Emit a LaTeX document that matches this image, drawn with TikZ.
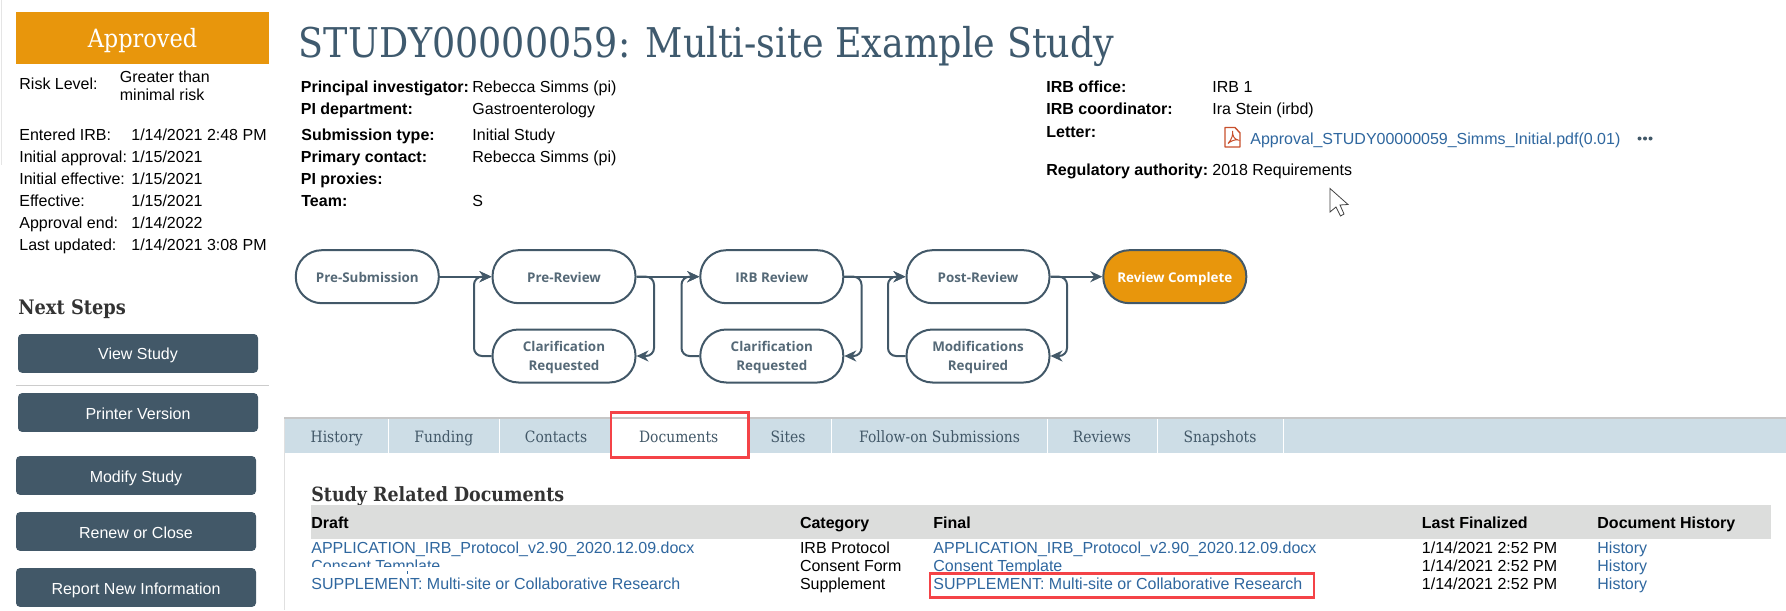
\documentclass[tikz,border=0pt]{standalone}
\usepackage{fontspec}
\setmainfont{Liberation Sans}
\newfontfamily\slab[FakeStretch=0.89]{DejaVu Serif}
\newfontfamily\flowfont{Open Sans}
\usetikzlibrary{arrows.meta}
\definecolor{slate}{HTML}{425868}
\definecolor{amber}{HTML}{E8960C}
\definecolor{titleblue}{HTML}{3F5A6E}
\definecolor{linkblue}{HTML}{2F679F}
\definecolor{tabblue}{HTML}{CDDDE6}
\definecolor{redbox}{HTML}{F44347}
\definecolor{headgray}{HTML}{DCDDDC}
\definecolor{pdfred}{HTML}{C8502D}
\tikzset{
  txt/.style={anchor=west,inner sep=0pt,text height=7.5pt,text depth=1pt,font=\fontsize{8}{9.6}\selectfont,text=black},
  lbl/.style={txt,font=\fontsize{8}{9.6}\selectfont\bfseries},
  lnk/.style={txt,text=linkblue},
  btn/.style={draw=none,fill=slate,rounded corners=2pt,minimum width=120pt,minimum height=19.4pt,inner sep=0pt,text height=7.5pt,text depth=1pt,text=white,font=\fontsize{8}{9.6}\selectfont},
  pill/.style={draw=slate,line width=1pt,fill=white,rounded corners=13pt,minimum width=71.5pt,minimum height=26.5pt,inner sep=0pt,align=center,text=slate!90!white,text height=15.3pt,text depth=.6pt,font=\flowfont\bfseries\fontsize{6.7}{9.4}\selectfont},
  pillone/.style={pill,text height=6.5pt,text depth=.3pt},
  flow/.style={draw=slate,line width=1pt,rounded corners=4pt,-{Stealth[length=6pt,width=5.5pt]}},
  tabtxt/.style={inner sep=0pt,text=slate,text height=6.5pt,text depth=.5pt,font=\slab\fontsize{7.8}{9}\selectfont},
  sep/.style={draw=white,line width=.5pt},
  hilite/.style={draw=redbox,line width=1.4pt,fill=none},
}
\begin{document}
\begin{tikzpicture}[x=0.5pt,y=-0.5pt]
\useasboundingbox (0,0) rectangle (1786,610);
\fill[white] (0,0) rectangle (1786,610);
\draw[gray!20,line width=.5pt] (1.5,0) -- (1.5,165);
% status
\node[fill=amber,minimum width=126.5pt,minimum height=26pt,inner sep=0pt,text=white,text height=10pt,text depth=.8pt,font=\slab\fontsize{12.6}{14}\selectfont] (status) at (142.5,38) {Approved};
\node[txt] (riskl) at (19,83.5) {Risk Level:};
\node[txt] (riskv1) at (119.5,76) {Greater than};
\node[txt] (riskv2) at (119.5,93.5) {minimal risk};
\node[txt] (d1l) at (19,134.3) {Entered IRB:};
\node[txt] (d1v) at (131,134.3) {1/14/2021 2:48 PM};
\node[txt] (d2l) at (19,156.3) {Initial approval:};
\node[txt] (d2v) at (131,156.3) {1/15/2021};
\node[txt] (d3l) at (19,178.3) {Initial effective:};
\node[txt] (d3v) at (131,178.3) {1/15/2021};
\node[txt] (d4l) at (19,200.3) {Effective:};
\node[txt] (d4v) at (131,200.3) {1/15/2021};
\node[txt] (d5l) at (19,222.3) {Approval end:};
\node[txt] (d5v) at (131,222.3) {1/14/2022};
\node[txt] (d6l) at (19,244.3) {Last updated:};
\node[txt] (d6v) at (131,244.3) {1/14/2021 3:08 PM};
% next steps
\node[anchor=west,inner sep=0pt,text=black!80,font=\slab\bfseries\fontsize{10}{12}\selectfont] (next) at (18,309) {Next Steps};
\node[btn] (b1) at (138,353.4) {View Study};
\draw[black!20,line width=.5pt] (16,385.3) -- (269,385.3);
\node[btn] (b2) at (138,412.5) {Printer Version};
\node[btn] (b3) at (136,475.5) {Modify Study};
\node[btn] (b4) at (136,531.5) {Renew or Close};
\node[btn] (b5) at (136,587.5) {Report New Information};
% title
\node[anchor=west,inner sep=0pt,text=titleblue,font=\slab\fontsize{20.5}{24}\selectfont] (title) at (298.5,46.5) {STUDY00000059: Multi-site Example Study};
% info
\node[lbl] (i1l) at (300.5,86.3) {Principal investigator:};
\node[txt] (i1v) at (472,86.3) {Rebecca Simms (pi)};
\node[lbl] (i2l) at (300.5,108.3) {PI department:};
\node[txt] (i2v) at (472,108.3) {Gastroenterology};
\node[lbl] (i3l) at (301,134.3) {Submission type:};
\node[txt] (i3v) at (472,134.3) {Initial Study};
\node[lbl] (i4l) at (300.5,156.3) {Primary contact:};
\node[txt] (i4v) at (472,156.3) {Rebecca Simms (pi)};
\node[lbl] (i5l) at (300.5,178.3) {PI proxies:};
\node[lbl] (i6l) at (301,200.3) {Team:};
\node[txt] (i6v) at (472,200.3) {S};
\node[lbl] (j1l) at (1046,86.3) {IRB office:};
\node[txt] (j1v) at (1212,86.3) {IRB 1};
\node[lbl] (j2l) at (1046,108.3) {IRB coordinator:};
\node[txt] (j2v) at (1212,108.3) {Ira Stein (irbd)};
\node[lbl] (j3l) at (1046,130.7) {Letter:};
\node[lnk] (j3v) at (1250,138.3) {Approval\_STUDY00000059\_Simms\_Initial.pdf(0.01)};
\node[lbl] (j4l) at (1046,168.7) {Regulatory authority:};
\node[txt] (j4v) at (1212,168.7) {2018 Requirements};
% pdf icon
\draw[pdfred,line width=.7pt,line join=round] (1225,127.5) -- (1235,127.5) -- (1240,133) -- (1240,147) -- (1225,147) -- cycle;
\draw[pdfred,line width=.5pt] (1228,143.5) .. controls (1232,139) and (1233,135) .. (1232.5,131) .. controls (1232.5,136) and (1234,139) .. (1238,140) .. controls (1234,139.5) and (1231,141) .. (1228,143.5);
% dots
\fill[slate] (1639.5,138.5) circle (1pt) (1645,138.5) circle (1pt) (1650.5,138.5) circle (1pt);
% cursor
\draw[black!75,fill=white,line width=.4pt,line join=miter] (1330,188.5) -- (1330,212) -- (1336,207) -- (1340.5,216) -- (1344,214) -- (1340,205) -- (1348,204.5) -- cycle;
% workflow
\node[pillone] (ps) at (367.3,276.7) {Pre-Submission};
\node[pillone] (pr) at (564,276.7) {Pre-Review};
\node[pill] (c1) at (564,356) {Clarification\\Requested};
\node[pillone] (ir) at (771.8,276.7) {IRB Review};
\node[pill] (c2) at (771.8,356) {Clarification\\Requested};
\node[pillone] (po) at (978,276.7) {Post-Review};
\node[pill] (mo) at (978,356) {Modifications\\Required};
\node[pillone,fill=amber,text=white] (rc) at (1174.8,276.7) {Review Complete};
\coordinate (l1) at (474,276.7);
\coordinate (r1) at (654,356);
\coordinate (l2) at (681.5,276.7);
\coordinate (r2) at (861.5,356);
\coordinate (l3) at (888,276.7);
\coordinate (r3) at (1067,356);
\draw[flow] (ps.east) -- (pr.west);
\draw[flow] (pr.east) -- (ir.west);
\draw[flow] (ir.east) -- (po.west);
\draw[flow] (po.east) -- (rc.west);
\draw[flow] (c1.west) -| (l1) -- (pr.west);
\draw[flow] (c2.west) -| (l2) -- (ir.west);
\draw[flow] (mo.west) -| (l3) -- (po.west);
\draw[flow] (pr.east) -| (r1) -- (c1.east);
\draw[flow] (ir.east) -| (r2) -- (c2.east);
\draw[flow] (po.east) -| (r3) -- (mo.east);
% tabs
\fill[black!22] (284,416.5) rectangle (1786,419);
\fill[tabblue] (284.5,419) rectangle (1786,452.7);
\draw[black!12,line width=.6pt] (284.5,419) -- (284.5,610);
\fill[white] (611,419) rectangle (747,453);
\draw[sep] (388.5,419) -- (388.5,452.7);
\draw[sep] (499.6,419) -- (499.6,452.7);
\draw[sep] (831,419) -- (831,452.7);
\draw[sep] (1047.5,419) -- (1047.5,452.7);
\draw[sep] (1157.6,419) -- (1157.6,452.7);
\draw[sep] (1283.6,419) -- (1283.6,452.7);
\node[tabtxt] (t1) at (336.7,436.7) {History};
\node[tabtxt] (t2) at (443.8,436.7) {Funding};
\node[tabtxt] (t3) at (556,436.7) {Contacts};
\node[tabtxt] (t4) at (678.7,436.7) {Documents};
\node[tabtxt] (t5) at (788,436.7) {Sites};
\node[tabtxt] (t6) at (939.6,436.7) {Follow-on Submissions};
\node[tabtxt] (t7) at (1102,436.7) {Reviews};
\node[tabtxt] (t8) at (1220,436.7) {Snapshots};
\draw[hilite] (611,412.7) rectangle (748.7,457.3);
% documents
\node[anchor=west,inner sep=0pt,text=black!80,font=\slab\bfseries\fontsize{9.8}{12}\selectfont] (sd) at (311,496.5) {Study Related Documents};
\fill[headgray] (311,505) rectangle (1770.6,538.7);
\node[lbl] (h1) at (311,521.7) {Draft};
\node[lbl] (h2) at (799.6,521.7) {Category};
\node[lbl] (h3) at (933,521.7) {Final};
\node[lbl] (h4) at (1421.5,521.7) {Last Finalized};
\node[lbl] (h5) at (1597,521.7) {Document History};
\node[lnk] (r1a) at (311,547.3) {APPLICATION\_IRB\_Protocol\_v2.90\_2020.12.09.docx};
\begin{scope}
\clip (305,555) rectangle (600,566);
\node[lnk] (r2a) at (311,565.3) {Consent Template};
\end{scope}
\draw[linkblue,line width=.4pt] (407,571) -- (407,574);
\node[lnk] (r3a) at (311,583.3) {SUPPLEMENT: Multi-site or Collaborative Research};
\node[txt] (r1b) at (799.6,547.3) {IRB Protocol};
\node[txt] (r2b) at (799.6,565.3) {Consent Form};
\node[txt] (r3b) at (799.6,583.3) {Supplement};
\node[lnk] (r1c) at (933,547.3) {APPLICATION\_IRB\_Protocol\_v2.90\_2020.12.09.docx};
\node[lnk] (r2c) at (933,565.3) {Consent Template};
\node[lnk] (r3c) at (933,583.3) {SUPPLEMENT: Multi-site or Collaborative Research};
\node[txt] (r1d) at (1421.5,547.3) {1/14/2021 2:52 PM};
\node[txt] (r2d) at (1421.5,565.3) {1/14/2021 2:52 PM};
\node[txt] (r3d) at (1421.5,583.3) {1/14/2021 2:52 PM};
\node[lnk] (r1e) at (1597,547.3) {History};
\node[lnk] (r2e) at (1597,565.3) {History};
\node[lnk] (r3e) at (1597,583.3) {History};
\draw[hilite] (930,573.3) rectangle (1314,597.3);
\end{tikzpicture}
\end{document}
